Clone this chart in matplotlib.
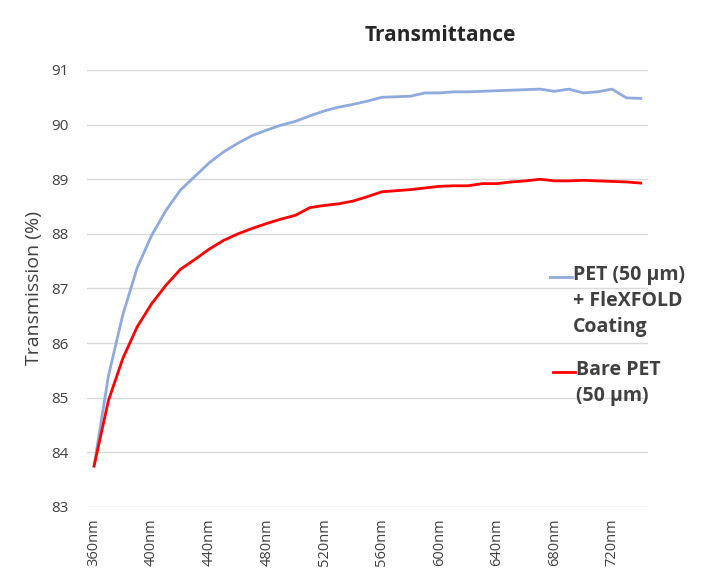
import matplotlib

matplotlib.use("Agg")
import matplotlib.pyplot as plt
from matplotlib.lines import Line2D

# wavelength categories, 10 nm steps
wavelengths = list(range(360, 750, 10))
tick_labels = [f"{w}nm" for w in wavelengths]

coated = [83.75, 85.4, 86.52, 87.38, 87.97, 88.43, 88.8, 89.05, 89.3, 89.5,
          89.66, 89.8, 89.9, 89.99, 90.06, 90.16, 90.25, 90.32, 90.37, 90.43,
          90.5, 90.51, 90.52, 90.58, 90.58, 90.6, 90.6, 90.61, 90.62, 90.63,
          90.64, 90.65, 90.61, 90.65, 90.58, 90.6, 90.65, 90.49, 90.48]
bare = [83.75, 84.95, 85.72, 86.3, 86.72, 87.06, 87.35, 87.53, 87.72, 87.88,
        88.0, 88.1, 88.19, 88.27, 88.34, 88.48, 88.52, 88.55, 88.6, 88.68,
        88.77, 88.79, 88.81, 88.84, 88.87, 88.88, 88.88, 88.92, 88.92, 88.95,
        88.97, 89.0, 88.97, 88.97, 88.98, 88.97, 88.96, 88.95, 88.93]

series_labels = ["PET (50 µm)\n+ FleXFOLD\nCoating", "Bare PET\n(50 µm)"]
series_colors = ["#8FAADC", "#FF0000"]

plt.rcParams["font.family"] = ["Open Sans", "DejaVu Sans"]
TEXT = "#404040"

fig = plt.figure(figsize=(7.12, 5.69), dpi=100)
ax = fig.add_axes([0.122, 0.109, 0.788, 0.768])

x = list(range(len(wavelengths)))
ax.plot(x, coated, color=series_colors[0], lw=2.0, solid_joinstyle="round")
ax.plot(x, bare, color=series_colors[1], lw=2.0, solid_joinstyle="round")

ax.set_xlim(-0.5, len(wavelengths) - 0.5)
ax.set_ylim(83, 91)
ax.set_yticks(range(83, 92))
ax.set_xticks(x[::4])
ax.set_xticklabels(tick_labels[::4], rotation=90, fontsize=10.5, color=TEXT)
ax.tick_params(axis="y", labelsize=11, labelcolor=TEXT, length=0, pad=13)
ax.tick_params(axis="x", length=0, pad=8)
ax.grid(axis="y", color="#D9D9D9", lw=1)
ax.set_axisbelow(True)
for s in ax.spines.values():
    s.set_visible(False)

ax.set_ylabel("Transmission (%)", fontsize=14, color=TEXT, labelpad=6)
fig.text(0.618, 0.938, "Transmittance", ha="center", va="center",
         fontsize=15, fontweight="bold", color="#262626")

# legend drawn by hand so the line sits on the first text line
legend_rows = [(0.487, 0.772, 0.805), (0.654, 0.776, 0.809)]
for (y0, x0, xt), lab, col in zip(legend_rows, series_labels, series_colors):
    yf = 1 - y0
    fig.add_artist(Line2D([x0, x0 + 0.032], [yf, yf], color=col, lw=2,
                          transform=fig.transFigure))
    fig.text(xt, yf + 0.022, lab, ha="left", va="top", fontsize=14,
             fontweight="bold", color=TEXT, linespacing=1.4)

fig.savefig("out.png", dpi=100)
